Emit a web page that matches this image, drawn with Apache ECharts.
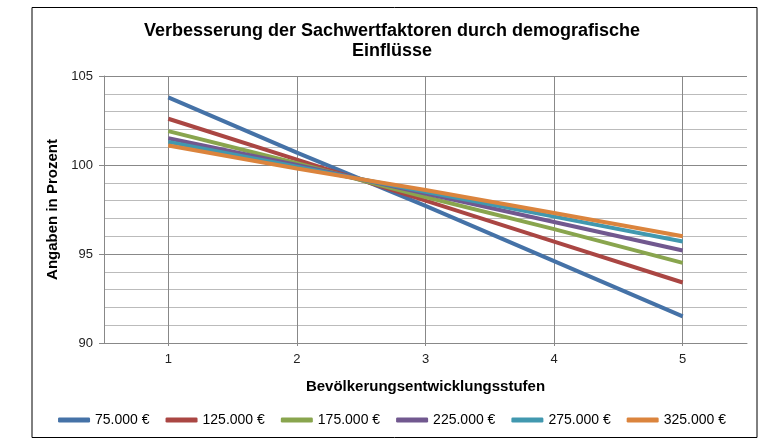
<!DOCTYPE html>
<html><head><meta charset="utf-8">
<script src="https://cdn.jsdelivr.net/npm/echarts@6/dist/echarts.min.js"></script>
<style>html,body{margin:0;padding:0;background:#fff}#c{width:784px;height:447px}</style>
</head><body><div id="c"></div>
<script>
const categories = ['1','2','3','4','5'];
const seriesNames = ['75.000 €','125.000 €','175.000 €','225.000 €','275.000 €','325.000 €'];
const s75  = [103.8, 100.7, 97.7, 94.6, 91.5];
const s125 = [102.6, 100.3, 98.0, 95.7, 93.4];
const s175 = [101.9, 100.1, 98.2, 96.4, 94.5];
const s225 = [101.5, 100.0, 98.4, 96.8, 95.2];
const s275 = [101.3, 99.9, 98.5, 97.1, 95.7];
const s325 = [101.1, 99.8, 98.6, 97.3, 96.0];
const colors = ['#4572A7','#AA4643','#89A54E','#71588F','#4198AF','#DB843D'];
const allData = [s75, s125, s175, s225, s275, s325];

const chart = echarts.init(document.getElementById('c'));
const font = 'Liberation Sans, Arial, sans-serif';
chart.setOption({
  animation: false,
  color: colors,
  textStyle: {fontFamily: font},
  graphic: [{type:'rect', shape:{x:32, y:7.5, width:725, height:430}, style:{fill:'none', stroke:'#000', lineWidth:1}, silent:true}],
  title: {
    text: 'Verbesserung der Sachwertfaktoren durch demografische\nEinflüsse',
    left: 'center', top: 16,
    textStyle: {fontFamily: font, fontSize: 18, fontWeight: 'bold', color: '#000', lineHeight: 20}
  },
  legend: {
    bottom: 15, left: 'center',
    icon: 'roundRect', itemWidth: 32, itemHeight: 5, itemGap: 16,
    textStyle: {fontFamily: font, fontSize: 14, color: '#000'},
    data: seriesNames
  },
  grid: {left: 104, right: 37, top: 76, bottom: 104},
  xAxis: {
    type: 'category', data: categories, boundaryGap: true,
    name: 'Bevölkerungsentwicklungsstufen', nameLocation: 'middle', nameGap: 36,
    nameTextStyle: {fontFamily: font, fontSize: 15, fontWeight: 'bold', color: '#000'},
    axisLine: {lineStyle: {color: '#888'}},
    axisTick: {show: true, alignWithLabel: true, length: 3, lineStyle: {color: '#888'}},
    axisLabel: {fontFamily: font, fontSize: 13, color: '#222', margin: 10},
    splitLine: {show: true, alignWithLabel: true, interval: 0, lineStyle: {color: '#888'}}
  },
  yAxis: {
    type: 'value', min: 90, max: 105, interval: 5,
    name: 'Angaben in Prozent', nameLocation: 'middle', nameGap: 40,
    nameTextStyle: {fontFamily: font, fontSize: 15, fontWeight: 'bold', color: '#000'},
    axisLine: {show: true, lineStyle: {color: '#888'}},
    axisTick: {show: true, length: 5, lineStyle: {color: '#888'}},
    axisLabel: {fontFamily: font, fontSize: 13, color: '#222', margin: 11},
    splitLine: {show: true, lineStyle: {color: '#888'}},
    minorTick: {show: false, splitNumber: 5},
    minorSplitLine: {show: true, lineStyle: {color: '#bbb'}}
  },
  series: seriesNames.map((n, i) => ({
    name: n, type: 'line', data: allData[i], symbol: 'none',
    lineStyle: {width: 4, color: colors[i]}, itemStyle: {color: colors[i]}
  }))
});
</script></body></html>
